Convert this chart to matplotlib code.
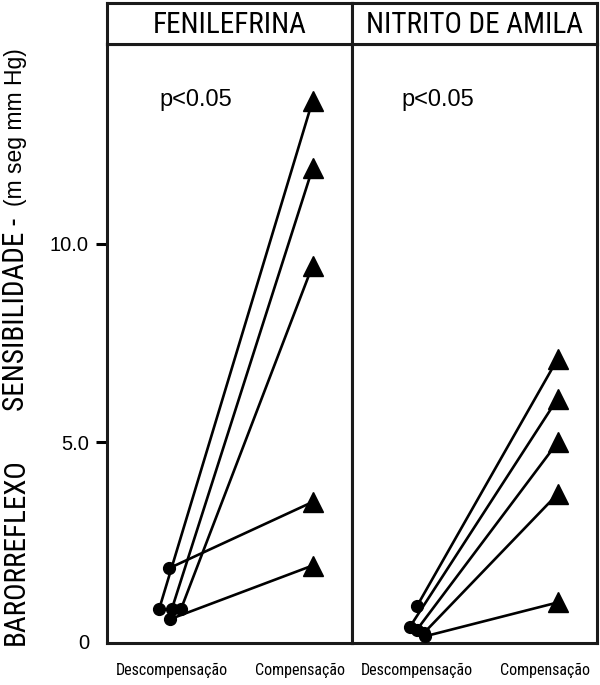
import matplotlib
matplotlib.use("Agg")
import matplotlib.pyplot as plt

# ---- data ----
panels = ["FENILEFRINA", "NITRITO DE AMILA"]
conditions = ["Descompensação", "Compensação"]
p_text = ["p<0.05", "p<0.05"]

feni_desc = [0.80, 0.80, 0.80, 1.83, 0.55]
feni_comp = [13.6, 11.9, 9.45, 3.5, 1.9]
nitr_desc = [0.87, 0.35, 0.28, 0.20, 0.12]
nitr_comp = [7.1, 6.1, 5.0, 3.7, 0.97]

ytick_vals = [0, 5, 10]
ytick_labels = ["0", "5.0", "10.0"]

# small horizontal offsets of the overlapping "Descompensação" dots (style)
feni_jit = [-0.09, 0.0, 0.065, -0.02, -0.012]
nitr_jit = [0.0, -0.05, 0.0, 0.05, 0.06]

NARROW = ["Roboto Condensed", "DejaVu Sans"]
REG = ["Liberation Sans", "DejaVu Sans"]

W, H = 600, 685
fig = plt.figure(figsize=(W / 100, H / 100), dpi=100)

def fx(px):
    return px / W

def fy(py):
    return 1 - py / H

x_left, x_mid, x_right = 107, 352, 597
y_top_hdr, y_hdr, y_bot = 3, 44, 643
LW_FRAME = 2.2

data = [(feni_desc, feni_comp, feni_jit), (nitr_desc, nitr_comp, nitr_jit)]
bounds = [(x_left, x_mid), (x_mid, x_right)]
p_xfrac = [0.363, 0.351]

for i, (panel, (d, c, j), (xa, xb)) in enumerate(zip(panels, data, bounds)):
    ax = fig.add_axes([fx(xa), fy(y_bot), fx(xb - xa), fy(y_hdr) - fy(y_bot)])
    for yd, yc, jj in zip(d, c, j):
        ax.plot([0 + jj, 1], [yd, yc], color="black", lw=1.9, zorder=2,
                solid_capstyle="round")
    ax.plot([0 + jj for jj in j], d, "o", color="black", ms=8.5, zorder=3,
            clip_on=False)
    ax.plot([1] * len(c), c, "^", color="black", ms=14, zorder=3)
    ax.set_xlim(-0.46, 1.28)
    ax.set_ylim(-0.05, 15.03)
    ax.set_xticks([0, 0.91])
    ax.set_xticklabels(conditions, fontfamily=NARROW, fontsize=11.5)
    ax.tick_params(axis="x", length=0, pad=14)
    for s in ax.spines.values():
        s.set_linewidth(LW_FRAME)
        s.set_color("#1a1a1a")
    if i == 0:
        ax.set_yticks(ytick_vals)
        ax.set_yticklabels(ytick_labels, fontfamily=REG, fontsize=14.5)
        ax.tick_params(axis="y", length=8, width=2.2, pad=5)
        ax.yaxis.get_major_ticks()[0].tick1line.set_visible(False)
    else:
        ax.set_yticks([])
    ax.text(p_xfrac[i], 0.906, p_text[i], transform=ax.transAxes, ha="center",
            va="center", fontfamily=REG, fontsize=17)

    hx = fig.add_axes([fx(xa), fy(y_hdr), fx(xb - xa), fy(y_top_hdr) - fy(y_hdr)])
    hx.set_xticks([])
    hx.set_yticks([])
    for s in hx.spines.values():
        s.set_linewidth(LW_FRAME)
        s.set_color("#1a1a1a")
    hx.text(0.5, 0.47, panel, transform=hx.transAxes, ha="center", va="center",
            fontfamily=NARROW, fontsize=21)

# y label pieces
fig.text(fx(16), fy(645), "BARORREFLEXO", rotation=90, ha="center", va="bottom",
         fontfamily=NARROW, fontsize=21)
fig.text(fx(16), fy(411), "SENSIBILIDADE -", rotation=90, ha="center", va="bottom",
         fontfamily=NARROW, fontsize=21)
fig.text(fx(16), fy(48), "(m seg mm Hg)", rotation=90, ha="center", va="top",
         fontfamily=REG, fontsize=16.5)

fig.savefig("out.png", dpi=100)
